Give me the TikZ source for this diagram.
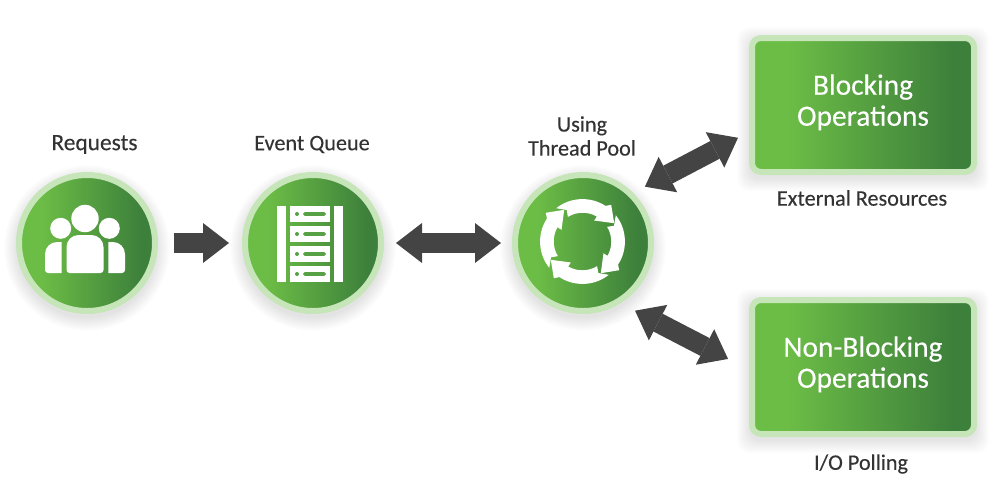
\documentclass[tikz,border=0pt]{standalone}
\usepackage{fontspec}
\setmainfont{Carlito}[FakeBold=0.25]
\usepackage{xcolor}
\usetikzlibrary{arrows.meta, shapes, positioning, calc}

\definecolor{ringgreen}{HTML}{C6E5B8}
\definecolor{lightgreen}{HTML}{6CBD46}
\definecolor{darkgreen}{HTML}{3D803B}
\definecolor{midgreen}{HTML}{56A145}
\definecolor{arrowgray}{HTML}{444444}
\definecolor{labelgray}{HTML}{333333}

\pgfdeclarehorizontalshading{greenfade}{100bp}{color(0bp)=(lightgreen); color(33bp)=(lightgreen); color(70bp)=(darkgreen); color(100bp)=(darkgreen)}

\tikzset{
  stagecircle/.style={circle, minimum size=68pt, inner sep=0pt, line width=3pt, draw=ringgreen, shading=greenfade},
  opbox/.style={rectangle, rounded corners=4.5pt, minimum width=111pt, minimum height=67pt, inner sep=0pt, line width=3pt,
    draw=ringgreen, shading=greenfade, text=white, align=center, text depth=5pt, font=\fontsize{14.7}{15.5}\selectfont},
  caption/.style={text=labelgray, align=center, inner sep=0pt, font=\fontsize{11.1}{12}\selectfont},
  flowarrow/.style={draw=arrowgray, line width=10pt, >={Triangle[length=13pt,width=20pt,line width=0pt]}},
}

\begin{document}
\begin{tikzpicture}[x=0.5pt,y=-0.5pt]
  \useasboundingbox (0,0) rectangle (1000,500);

  \foreach \cx in {87,313,583}
    \foreach \rad in {70,...,83}
      \fill[black,opacity=0.008] (\cx,248) circle (\rad);
  \foreach \cy in {105,367}
    \foreach \g in {0,...,12}
      \fill[black,opacity=0.007,rounded corners=6pt] (749-\g,\cy-66-\g) rectangle (977+\g,\cy+74+\g);

  \node[stagecircle] (requests) at (87,243) {};
  \node[stagecircle] (queue) at (313,243) {};
  \node[stagecircle] (pool) at (583,243) {};
  \node[opbox] (blocking) at (863,105) {Blocking\\Operations};
  \node[opbox] (nonblocking) at (863,367) {Non-Blocking\\Operations};

  \node[caption,font=\fontsize{11.7}{12}\selectfont] (requestslabel) at (94.5,144.5) {Requests};
  \node[caption] (queuelabel) at (312,144.5) {Event Queue};
  \node[caption] (poollabel) at (582,136) {Using\\Thread Pool};
  \node[caption] (externallabel) at (862,198) {External Resources};
  \node[caption] (polllabel) at (861,464) {I/O Polling};

  % people
  \fill[white] (85,218.5) circle (13.7);
  \fill[white] (60.7,228.3) circle (10.5);
  \fill[white] (109.3,228.3) circle (10.5);
  \fill[white] (66.5,270) -- (66.5,247) arc (180:270:12) -- (91.5,235) arc (270:360:12) -- (103.5,270) arc (0:90:3) -- (69.5,273) arc (90:180:3) -- cycle;
  \fill[white] (61.7,242) -- (57,242) arc (270:180:12) -- (45,270) arc (180:90:3) -- (61.7,273) -- cycle;
  \fill[white] (108.3,242) -- (113,242) arc (270:360:12) -- (125,270) arc (0:90:3) -- (108.3,273) -- cycle;

  % server rack
  \fill[white] (277,206) rectangle (286,282);
  \fill[white] (334,206) rectangle (343,282);
  \foreach \y in {206,226,246,266} {
    \fill[white] (290,\y) rectangle (330,\y+16);
    \fill[midgreen] (297,\y+8) circle (2);
    \fill[midgreen,rounded corners=0.8pt] (303,\y+6.2) rectangle (326,\y+9.8);
  }

  % cycle arrows
  \foreach \ang in {0,90,180,270} {
    \begin{scope}[shift={(582.5,241.5)},rotate=\ang,yscale=-1]
      \fill[white] (-26.3,33.3) arc (128.3:57:42.4) -- (28.7,36.7) -- (31.7,18.3) -- (11.7,21) -- (14.3,25) arc (60.2:121.2:28.5) -- (-15.8,31.5) -- cycle;
    \end{scope}
  }

  \draw[flowarrow,->,shorten <=8pt,shorten >=6.5pt] (requests) -- (queue);
  \draw[flowarrow,<->,shorten <=6pt,shorten >=5.5pt] (queue) -- (pool);
  \draw[flowarrow,<->,shorten <=6.6pt,shorten >=6.2pt] (pool.45) -- ([yshift=-13.5pt]blocking.west);
  \draw[flowarrow,<->,shorten <=8.1pt,shorten >=11.8pt] (pool.-58) -- ([yshift=-1.4pt]nonblocking.west);
\end{tikzpicture}
\end{document}
